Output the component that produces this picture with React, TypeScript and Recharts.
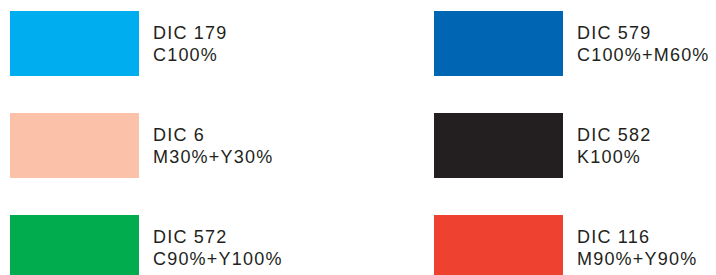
import { ScatterChart, Scatter, XAxis, YAxis } from "recharts"

// swatch order: left column top to bottom, then right column top to bottom
const dicCodes = ["DIC 179", "DIC 6", "DIC 572", "DIC 579", "DIC 582", "DIC 116"]
const inkMixes = ["C100%", "M30%+Y30%", "C90%+Y100%", "C100%+M60%", "K100%", "M90%+Y90%"]
const swatchColors = ["#00aeef", "#fbc1a9", "#00ac4e", "#0066b3", "#231f20", "#ef412f"]

const ROWS = 3

const data = dicCodes.map((code, i) => ({
  col: Math.floor(i / ROWS),
  row: i % ROWS,
  code,
  mix: inkMixes[i],
  color: swatchColors[i],
}))

const SwatchShape = (props: any) => {
  const { cx, cy, payload } = props
  if (cx == null || cy == null) return null
  return (
    <g>
      <rect x={cx} y={cy} width={129} height={65} fill={payload.color} />
      <text
        x={cx + 143}
        y={cy + 28}
        fontSize={18}
        letterSpacing={1.2}
        fontFamily="'Liberation Sans', Arial, sans-serif"
        fill="#231f20"
      >
        {payload.code}
      </text>
      <text
        x={cx + 143}
        y={cy + 50}
        fontSize={18}
        letterSpacing={1.2}
        fontFamily="'Liberation Sans', Arial, sans-serif"
        fill="#231f20"
      >
        {payload.mix}
      </text>
    </g>
  )
}

export default function App() {
  return (
    <div style={{ position: "absolute", left: 0, top: 0, width: 716, height: 275, background: "#fff" }}>
      <ScatterChart width={716} height={275} margin={{ top: 11, right: 282, bottom: 60, left: 10 }}>
        <XAxis type="number" dataKey="col" domain={[0, 1]} hide />
        <YAxis type="number" dataKey="row" domain={[0, 2]} reversed hide />
        <Scatter data={data} shape={SwatchShape} isAnimationActive={false} />
      </ScatterChart>
    </div>
  )
}
